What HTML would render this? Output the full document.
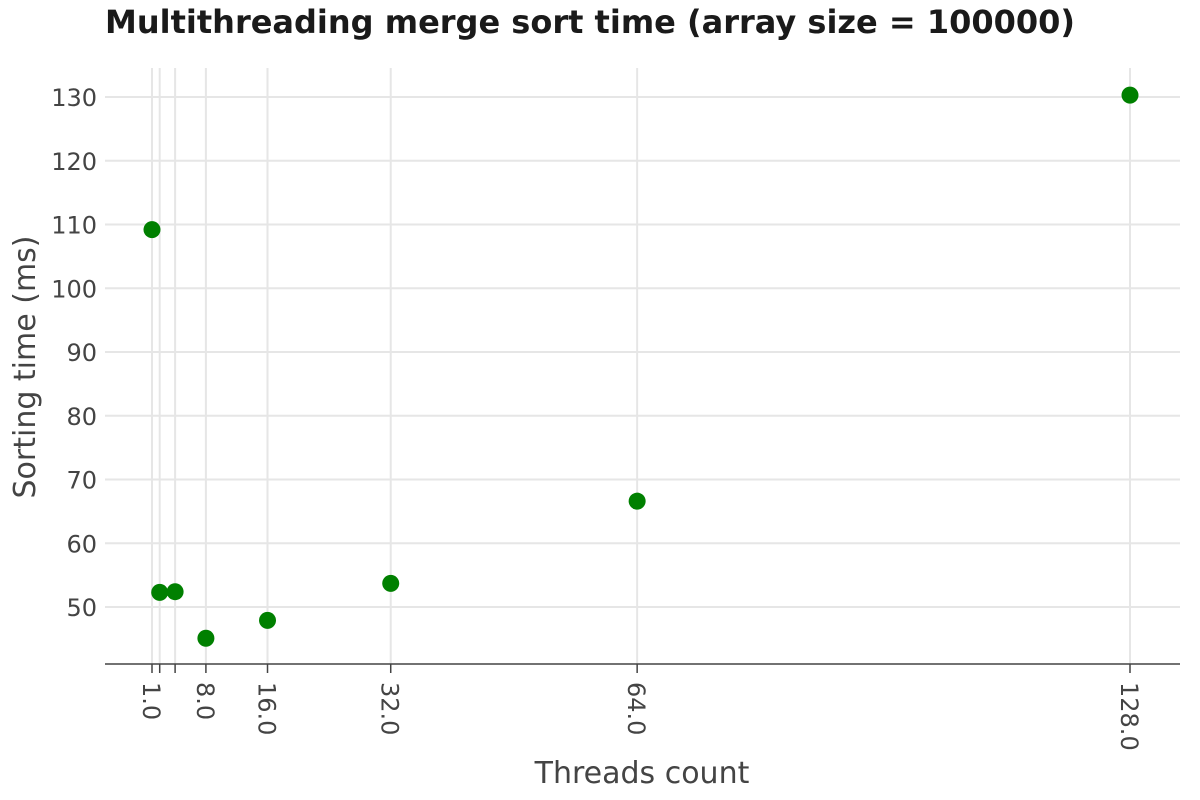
<!DOCTYPE html>
<html><head><meta charset="utf-8"><style>
body{margin:0;background:#fff;}
svg{display:block;font-family:"DejaVu Sans","Liberation Sans",sans-serif;}
</style></head><body>
<svg id="chart" width="1200" height="800">
<text x="105" y="33" font-size="32" font-weight="bold" fill="#1a1a1a">Multithreading merge sort time (array size = 100000)</text>
<g id="grid"></g><g id="axes"></g><g id="marks"></g>
<text x="642" y="783" font-size="30" fill="#444" text-anchor="middle">Threads count</text>
<text transform="translate(35,367) rotate(-90)" font-size="30" fill="#444" text-anchor="middle">Sorting time (ms)</text>
</svg>
<script>
const threads=[1,2,4,8,16,32,64,128];
const times=[109.2,52.3,52.4,45.1,47.9,53.7,66.6,130.3];
const xTickLabels=["1.0","","","8.0","16.0","32.0","64.0","128.0"];
const yTicks=[50,60,70,80,90,100,110,120,130];
const NS="http://www.w3.org/2000/svg";
const xs=v=>152+(v-1)*(1130-152)/127;
const ys=v=>607-(v-50)*(607-97)/80;
function mk(tag,attrs,parent){const e=document.createElementNS(NS,tag);for(const k in attrs)e.setAttribute(k,attrs[k]);document.getElementById(parent).appendChild(e);return e;}
yTicks.forEach(t=>{
 const l=mk('line',{x1:105,x2:1180,y1:ys(t),y2:ys(t),stroke:'#e6e6e6','stroke-width':2},'grid');
 
 
 const tx=mk('text',{x:97,y:ys(t)+9,'font-size':24,fill:'#444','text-anchor':'end'},'axes');
 tx.textContent=t;
 
 
});
threads.forEach((v,i)=>{
 const g=mk('line',{x1:xs(v),x2:xs(v),y1:68,y2:664,stroke:'#e6e6e6','stroke-width':2},'grid');
 
 
 const tk=mk('line',{x1:xs(v),x2:xs(v),y1:664,y2:673,stroke:'#444','stroke-width':1.5},'axes');
 
 
 if(xTickLabels[i]){
  const t=mk('text',{transform:`translate(${xs(v)-9},682) rotate(90)`,'font-size':24,fill:'#444'},'axes');
  t.textContent=xTickLabels[i];
  
  
 }
});
const ax=mk('line',{x1:105,x2:1180,y1:664,y2:664,stroke:'#444','stroke-width':1.5},'axes');


threads.forEach((v,i)=>{
 const c=mk('circle',{cx:xs(v),cy:ys(times[i]),r:8.5,fill:'#008000'},'marks');
 
 
});
</script>
</body></html>
